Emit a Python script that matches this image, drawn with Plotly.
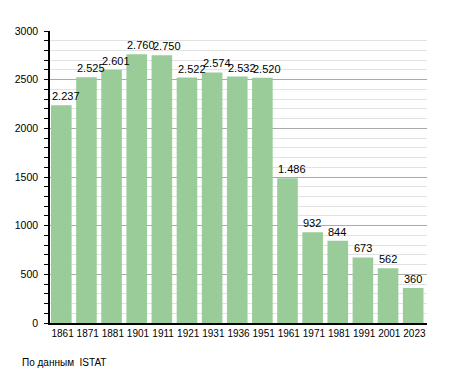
import plotly.graph_objects as go

years = ["1861", "1871", "1881", "1901", "1911", "1921", "1931", "1936",
         "1951", "1961", "1971", "1981", "1991", "2001", "2023"]
population = [2237, 2525, 2601, 2760, 2750, 2522, 2574, 2532,
              2520, 1486, 932, 844, 673, 562, 360]
value_labels = ["2.237", "2.525", "2.601", "2.760", "2.750", "2.522", "2.574", "2.532",
                "2.520", "1.486", "932", "844", "673", "562", "360"]
source_note = "По данным&nbsp; ISTAT"

FONT = "Liberation Sans, Arial, sans-serif"
BAR_W = 0.82
BAR_OFF = -0.46
positions = list(range(len(years)))

fig = go.Figure()
fig.add_trace(go.Bar(
    x=positions, y=population,
    width=BAR_W, offset=BAR_OFF,
    marker=dict(color="#99CC99", line=dict(width=0)),
    hoverinfo="skip",
))

for p, v, lab in zip(positions, population, value_labels):
    fig.add_annotation(
        x=p + BAR_OFF, y=v, xref="x", yref="y", text=lab, showarrow=False,
        xanchor="left", yanchor="bottom", xshift=-1, yshift=1,
        font=dict(family=FONT, size=11, color="#000000"),
    )

fig.add_annotation(
    x=-30 / 377, y=-(362 - 323) / 292, xref="paper", yref="paper",
    text=source_note, showarrow=False,
    xanchor="left", yanchor="middle",
    font=dict(family=FONT, size=10, color="#000000"),
)

fig.update_layout(
    width=455, height=373,
    margin=dict(l=50, r=28, t=31, b=50, pad=0),
    paper_bgcolor="white", plot_bgcolor="white",
    showlegend=False,
    font=dict(family=FONT, size=11, color="#000000"),
)

fig.update_xaxes(
    range=[-0.5, 14.5], tickvals=positions, ticktext=years, tickangle=0,
    showline=True, linecolor="#000000", linewidth=1.5,
    ticks="", showgrid=False, zeroline=False, tickfont=dict(size=10),
    automargin=False,
)
fig.update_yaxes(
    range=[0, 3000], dtick=500, tickformat="d",
    showline=True, linecolor="#000000", linewidth=1.5,
    ticks="outside", ticklen=4, tickcolor="#000000", tickwidth=1,
    showgrid=True, gridcolor="#AAAAAA", gridwidth=1,
    zeroline=False,
    minor=dict(dtick=100, ticks="outside", ticklen=4, tickcolor="#000000",
               showgrid=True, gridcolor="#E2E2E2", gridwidth=1),
    tickfont=dict(size=10.5),
    ticklabelstandoff=4,
    automargin=False,
)

fig.write_html("out.html", config={"displayModeBar": False},
               post_script="document.body.style.margin='0';")
